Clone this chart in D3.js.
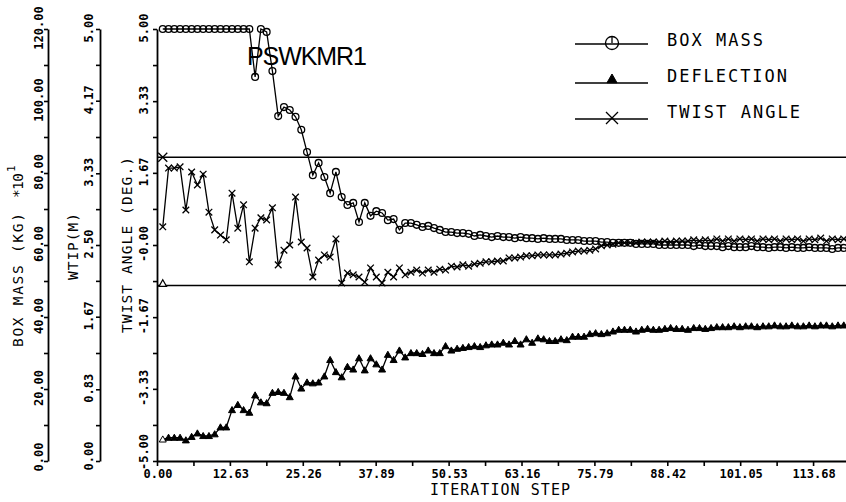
<!DOCTYPE html>
<html><head><meta charset="utf-8">
<script src="https://cdn.jsdelivr.net/npm/d3@7"></script>
<style>body{margin:0;background:#fff} svg{display:block}</style>
</head><body><svg id="c" width="846" height="502"></svg>
<script>
// ---------- DATA ----------
const iterations = d3.range(1, 121);
const boxMass = [
 120,120,120,120,120,120,120,120,120,120,120,120,120,120,120,120,
 106.7,120,119.2,108.3,95.8,98.3,97.5,95.6,92.0,85.8,79.4,82.8,78.9,74.4,
 80.3,73.3,71.1,71.7,66.4,71.7,68.1,69.4,68.9,66.9,67.2,64.2,
 66.1,66.1,65.6,65.0,65.3,64.7,64.2,63.6,63.6,63.3,63.3,63.1,62.5,62.8,62.5,62.2,62.5,
 62.2,62.2,61.9,62.2,61.9,61.9,61.7,61.9,61.7,61.7,61.7,
 61.4,61.4,61.4,61.1,61.1,61.1,60.8,60.8,60.6,60.6,
 60.6,60.6,60.3,60.3,60.3,60.3,60.0,60.0,60.0,60.0,60.0,
 60.0,59.7,60.0,59.7,59.7,59.7,59.4,59.7,59.4,
 59.4,59.4,59.7,59.4,59.4,59.2,59.4,59.4,59.2,59.4,
 59.2,59.2,59.4,59.2,59.2,59.2,58.9,59.2,59.2,58.9
];
const deflection = [
 0.25,0.27,0.27,0.27,0.24,0.28,0.32,0.29,0.29,0.31,0.39,0.39,0.59,0.65,0.59,0.56,
 0.76,0.68,0.67,0.79,0.80,0.79,0.74,0.98,0.84,0.91,0.90,0.91,0.98,1.17,1.03,0.97,
 1.09,1.06,1.19,1.05,1.19,1.12,1.06,1.23,1.17,1.28,
 1.20,1.25,1.25,1.24,1.28,1.25,1.25,1.33,1.28,1.30,
 1.31,1.32,1.33,1.32,1.34,1.35,1.35,1.37,1.35,1.39,
 1.35,1.41,1.37,1.42,1.41,1.39,1.39,1.41,1.40,1.44,
 1.44,1.44,1.47,1.48,1.47,1.48,1.50,1.52,
 1.52,1.52,1.50,1.52,1.53,1.52,1.52,1.53,1.54,1.53,1.53,1.52,1.54,1.54,1.53,1.54,1.55,
 1.55,1.55,1.56,1.55,1.56,1.56,1.55,1.56,1.56,1.57,
 1.56,1.56,1.57,1.56,1.56,1.57,1.56,1.57,1.57,1.56,1.57,1.57,1.57
];
const twistAngle = [
 0.42,1.78,1.78,1.81,0.81,1.69,1.39,1.64,0.76,0.35,
 0.23,0.12,1.20,0.39,0.93,-0.39,0.39,0.63,0.58,0.86,
 -0.46,-0.12,0.00,1.11,0.07,-0.07,-0.74,-0.35,-0.23,-0.28,
 0.14,-0.88,-0.65,-0.69,-0.74,-0.86,-0.53,-0.74,-0.88,-0.63,
 -0.74,-0.53,
 -0.69,-0.63,-0.58,-0.65,-0.58,-0.63,-0.56,
 -0.58,-0.49,-0.51,-0.46,-0.49,-0.44,
 -0.42,-0.39,-0.39,-0.37,-0.37,
 -0.30,-0.30,-0.28,-0.25,-0.25,-0.23,-0.23,-0.23,-0.23,-0.21,
 -0.19,-0.16,-0.14,-0.14,-0.12,-0.09,-0.02,0.00,0.02,0.05,
 0.05,0.05,0.05,0.07,0.07,0.07,0.07,0.09,0.07,0.09,
 0.09,0.09,0.12,0.09,0.12,0.09,0.14,0.09,0.14,0.09,
 0.14,0.12,0.14,0.09,0.14,0.12,0.14,0.09,0.14,0.12,
 0.14,0.09,0.14,0.12,0.16,0.09,0.14,0.12,0.14,0.12
];
const twistLimit = 2.03;       // deg, on twist-angle axis
const deflectionLimit = 2.03;  // m, on WTIP axis
const xTickLabels = ["0.00","12.63","25.26","37.89","50.53","63.16","75.79","88.42","101.05","113.68"];
const xAxisEnd = 126.316;
const boxTickLabels = ["0.00","20.00","40.00","60.00","80.00","100.00","120.00"];
const wtipTickLabels = ["0.00","0.83","1.67","2.50","3.33","4.17","5.00"];
const twistTickLabels = ["-5.00","-3.33","-1.67","-0.00","1.67","3.33","5.00"];
const legendItems = ["BOX MASS","DEFLECTION","TWIST ANGLE"];
const chartTitle = "PSWKMR1";

// ---------- LAYOUT ----------
const svg = d3.select("#c");
const X0 = 157, X1 = 886, Y0 = 461, Y1 = 29;
const x = d3.scaleLinear().domain([0, xAxisEnd]).range([X0, X1]);
const yBox = d3.scaleLinear().domain([0, 120]).range([Y0, Y1]);
const yW = d3.scaleLinear().domain([0, 5]).range([Y0, Y1]);
const yT = d3.scaleLinear().domain([-5, 5]).range([Y0, Y1]);

const tickFont = "'DejaVu Sans Mono', monospace";

function withMinors(vals) {
  const out = [];
  vals.forEach((v, i) => { out.push(v); if (i < vals.length - 1) out.push((v + vals[i + 1]) / 2); });
  return out;
}

function yAxis(scale, labels, ax, lx, bottomShift) {
  const vals = labels.map(Number);
  const g = svg.append("g").attr("transform", `translate(${ax},0)`)
    .call(d3.axisLeft(scale).tickValues(withMinors(vals)).tickSize(4).tickSizeOuter(0).tickFormat(""));
  g.select(".domain").attr("stroke", "#000").attr("stroke-width", 1.8);
  g.selectAll(".tick line").attr("stroke", "#000").attr("stroke-width", 1.6);
  svg.append("g").selectAll("text").data(vals).join("text")
    .attr("transform", (d, i) => `translate(${lx},${scale(d) - 1 - (i === 0 ? bottomShift : 0)}) rotate(-90)`)
    .attr("text-anchor", "middle")
    .attr("font-family", tickFont).attr("font-weight", "bold").attr("font-size", 12)
    .attr("fill", "#000")
    .text((d, i) => labels[i]);
}
yAxis(yBox, boxTickLabels, 48, 43, 3);
yAxis(yW, wtipTickLabels, 100, 93, 4);
yAxis(yT, twistTickLabels, X0, 148, 8);

// x axis
{
  const vals = xTickLabels.map(Number).concat([xAxisEnd]);
  const g = svg.append("g").attr("transform", `translate(0,${Y0})`)
    .call(d3.axisBottom(x).tickValues(withMinors(vals)).tickSize(5).tickSizeOuter(0).tickFormat(""));
  g.select(".domain").attr("stroke", "#000").attr("stroke-width", 1.8);
  g.selectAll(".tick line").attr("stroke", "#000").attr("stroke-width", 1.6);
  svg.append("g").selectAll("text").data(xTickLabels).join("text")
    .attr("x", d => x(+d) + 1).attr("y", 478)
    .attr("text-anchor", "middle")
    .attr("font-family", tickFont).attr("font-weight", "bold").attr("font-size", 12)
    .text(d => d);
  svg.append("text").attr("x", 430).attr("y", 495)
    .attr("font-family", tickFont).attr("font-size", 15)
    .attr("textLength", 140).attr("lengthAdjust", "spacing")
    .text("ITERATION STEP");
}

// axis titles (rotated)
function vText(txt, bx, startY, len, size) {
  return svg.append("text").attr("transform", `translate(${bx},${startY}) rotate(-90)`)
    .attr("font-family", tickFont).attr("font-size", size)
    .attr("textLength", len).attr("lengthAdjust", "spacing").text(txt);
}
vText("BOX MASS (KG)", 23, 347, 134, 14.5);
vText("*10", 23, 198, 25, 14.5);
vText("1", 15, 172, 6, 11);
vText("WTIP(M)", 78, 280, 67, 14.5);
vText("TWIST ANGLE (DEG.)", 132, 333, 176, 14.5);

// constraint lines
svg.append("line").attr("x1", X0).attr("x2", 846).attr("y1", yT(twistLimit)).attr("y2", yT(twistLimit))
  .attr("stroke", "#000").attr("stroke-width", 1.5);
svg.append("line").attr("x1", X0).attr("x2", 846).attr("y1", yW(deflectionLimit)).attr("y2", yW(deflectionLimit))
  .attr("stroke", "#000").attr("stroke-width", 1.5);

// title
svg.append("text").attr("x", 247).attr("y", 65)
  .attr("font-family", "'Liberation Sans', 'DejaVu Sans', sans-serif").attr("font-size", 25)
  .attr("textLength", 120).attr("lengthAdjust", "spacing")
  .text(chartTitle);

// ---------- SERIES ----------
const lineStyle = s => s.attr("fill", "none").attr("stroke", "#000").attr("stroke-width", 1.3);
function series(vals, yScale) {
  const pts = iterations.map((it, i) => [x(it), yScale(vals[i])]);
  svg.append("path").datum(pts).attr("d", d3.line()).call(lineStyle);
  return pts;
}
const triPath = (s) => `M0,${-s}L${s},${s*0.75}L${-s},${s*0.75}Z`;

const pBox = series(boxMass, yBox);
const pDef = series(deflection, yW);
const pTw = series(twistAngle, yT);

svg.append("g").selectAll("circle").data(pBox).join("circle")
  .attr("cx", d => d[0]).attr("cy", d => d[1]).attr("r", 3.4)
  .attr("fill", "none").attr("stroke", "#000").attr("stroke-width", 1.3);
svg.append("g").selectAll("path").data(pDef).join("path")
  .attr("transform", d => `translate(${d[0]},${d[1]})`).attr("d", triPath(3.5))
  .attr("fill", (d, i) => i === 0 ? "#fff" : "#000").attr("stroke", "#000").attr("stroke-width", 1);
function xMark(g, d, s) {
  g.append("path").attr("d", `M${d[0]-s},${d[1]-s}L${d[0]+s},${d[1]+s}M${d[0]-s},${d[1]+s}L${d[0]+s},${d[1]-s}`)
    .attr("stroke", "#000").attr("stroke-width", 1.3).attr("fill", "none");
}
const gx = svg.append("g");
pTw.forEach(d => xMark(gx, d, 3.3));

// markers at start of constraint lines
xMark(svg.append("g"), [x(iterations[0]), yT(twistLimit)], 4.5);
svg.append("path").attr("transform", `translate(${x(iterations[0])},${yW(deflectionLimit) - 2})`)
  .attr("d", triPath(3.8)).attr("fill", "#fff").attr("stroke", "#000").attr("stroke-width", 1.2);

// ---------- LEGEND ----------
const legLineY = [44, 83, 119];
const legTextY = [46, 82, 118];
const leg = svg.append("g");
legendItems.forEach((name, i) => {
  leg.append("line").attr("x1", 575).attr("x2", 648).attr("y1", legLineY[i]).attr("y2", legLineY[i])
    .attr("stroke", "#000").attr("stroke-width", 1.3);
  leg.append("text").attr("x", 667).attr("y", legTextY[i])
    .attr("font-family", tickFont).attr("font-size", 17)
    .attr("textLength", [96, 120, 133][i]).attr("lengthAdjust", "spacing")
    .text(name);
});
leg.append("circle").attr("cx", 612).attr("cy", 43).attr("r", 6.5).attr("fill", "none")
  .attr("stroke", "#000").attr("stroke-width", 1.3);
leg.append("line").attr("x1", 612).attr("x2", 612).attr("y1", 36.5).attr("y2", 43)
  .attr("stroke", "#000").attr("stroke-width", 1.3);
leg.append("path").attr("transform", `translate(612,${legLineY[1] - 4})`).attr("d", triPath(5))
  .attr("fill", "#000").attr("stroke", "#000");
xMark(leg, [612, 118], 6);
</script></body></html>
